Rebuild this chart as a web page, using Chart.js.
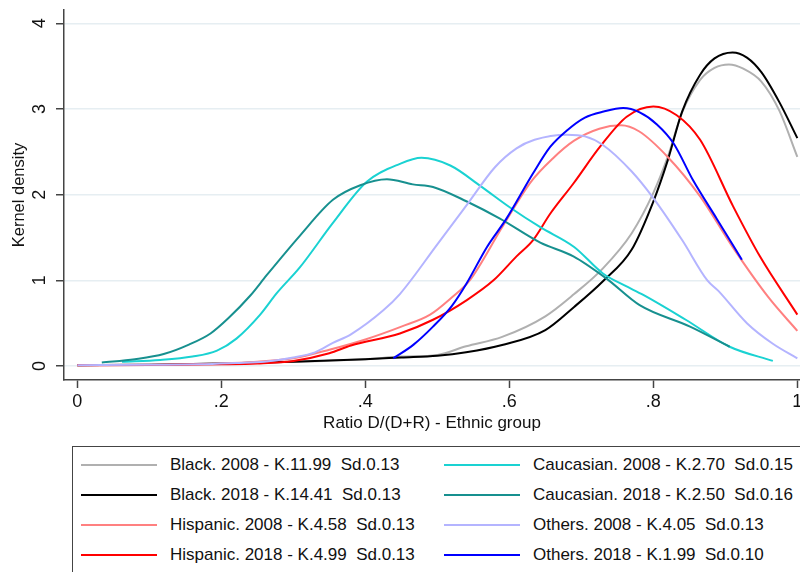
<!DOCTYPE html>
<html>
<head>
<meta charset="utf-8">
<script src="https://cdn.jsdelivr.net/npm/chart.js@4.4.0/dist/chart.umd.min.js"></script>
<style>
  html, body { margin:0; padding:0; background:#fff; width:800px; height:572px; overflow:hidden; }
  #wrap { position:relative; width:800px; height:572px; overflow:hidden; }
  #chart { position:absolute; left:0; top:0; }
  #legend { position:absolute; left:72px; top:446px; width:760px; height:134px; box-sizing:border-box;
            border:1px solid #444; font:17px "Liberation Sans", Arial, sans-serif; color:#111; }
  .item { position:absolute; height:20px; line-height:20px; }
  .item .ln { position:absolute; top:9px; left:0; width:76px; height:2px; }
  .item .tx { position:absolute; left:89px; top:0; white-space:pre; }
</style>
</head>
<body>
<div id="wrap">
  <canvas id="chart" width="800" height="446"></canvas>
  <div id="legend"></div>
</div>
<script>
(function(){
  'use strict';

  // axis ticks
  const xTicks = [0, 0.2, 0.4, 0.6, 0.8, 1];
  const xTickLabels = ['0', '.2', '.4', '.6', '.8', '1'];
  const yTicks = [0, 1, 2, 3, 4];

  // legend text, in the order the series are listed
  const seriesLabels = [
    'Black. 2008 - K.11.99  Sd.0.13',
    'Black. 2018 - K.14.41  Sd.0.13',
    'Hispanic. 2008 - K.4.58  Sd.0.13',
    'Hispanic. 2018 - K.4.99  Sd.0.13',
    'Caucasian. 2008 - K.2.70  Sd.0.15',
    'Caucasian. 2018 - K.2.50  Sd.0.16',
    'Others. 2008 - K.4.05  Sd.0.13',
    'Others. 2018 - K.1.99  Sd.0.10'
  ];
  const seriesColors = ['#b0b0b0', '#000000', '#ff8080', '#ff0000', '#1ad2d2', '#17908f', '#b4b4ff', '#0000ff'];

  // kernel density curves, [ratio, density]
  const black2008 = [[0,0.01],[0.1,0.015],[0.2,0.03],[0.3,0.05],[0.4,0.08],[0.45,0.11],[0.5,0.13],[0.54,0.23],
    [0.59,0.34],[0.65,0.58],[0.69,0.84],[0.73,1.14],[0.77,1.55],[0.8,2.02],[0.82,2.44],[0.84,2.96],[0.865,3.34],
    [0.885,3.48],[0.905,3.52],[0.925,3.47],[0.95,3.32],[0.975,2.98],[1.0,2.44]];
  const black2018 = [[0,0.01],[0.1,0.015],[0.2,0.03],[0.3,0.05],[0.4,0.08],[0.45,0.1],[0.5,0.12],[0.54,0.16],
    [0.59,0.245],[0.65,0.42],[0.69,0.69],[0.73,0.99],[0.77,1.36],[0.8,1.92],[0.82,2.4],[0.84,2.97],[0.865,3.4],
    [0.885,3.59],[0.91,3.66],[0.93,3.6],[0.95,3.43],[0.975,3.08],[1.0,2.66]];
  const hispanic2008 = [[0,0.01],[0.1,0.015],[0.2,0.03],[0.25,0.05],[0.3,0.09],[0.35,0.19],[0.4,0.31],[0.45,0.46],
    [0.49,0.6],[0.52,0.8],[0.545,1.0],[0.59,1.62],[0.63,2.15],[0.66,2.42],[0.69,2.63],[0.725,2.77],[0.755,2.81],
    [0.78,2.74],[0.82,2.44],[0.865,1.98],[0.91,1.39],[0.96,0.8],[1.0,0.41]];
  const hispanic2018 = [[0,0.01],[0.1,0.012],[0.2,0.02],[0.25,0.03],[0.3,0.06],[0.35,0.15],[0.38,0.24],[0.448,0.38],
    [0.494,0.54],[0.541,0.77],[0.578,1.0],[0.61,1.28],[0.633,1.47],[0.657,1.78],[0.689,2.13],[0.726,2.56],
    [0.763,2.91],[0.8,3.03],[0.832,2.93],[0.865,2.64],[0.911,1.86],[0.948,1.28],[1.0,0.6]];
  const caucasian2008 = [[0.062,0.05],[0.115,0.07],[0.16,0.11],[0.194,0.18],[0.221,0.32],[0.254,0.6],[0.277,0.85],
    [0.309,1.15],[0.355,1.67],[0.402,2.15],[0.448,2.36],[0.478,2.43],[0.518,2.34],[0.56,2.1],[0.601,1.85],
    [0.643,1.62],[0.69,1.39],[0.73,1.08],[0.76,0.94],[0.786,0.83],[0.845,0.54],[0.906,0.225],[0.966,0.06]];
  const caucasian2018 = [[0.034,0.04],[0.08,0.08],[0.12,0.14],[0.155,0.25],[0.185,0.38],[0.21,0.56],[0.24,0.82],
    [0.263,1.06],[0.309,1.52],[0.355,1.94],[0.393,2.11],[0.43,2.18],[0.466,2.12],[0.494,2.09],[0.541,1.92],
    [0.587,1.72],[0.643,1.44],[0.689,1.28],[0.735,1.02],[0.781,0.71],[0.851,0.46],[0.906,0.225]];
  const others2008 = [[0,0.01],[0.1,0.015],[0.17,0.02],[0.22,0.035],[0.26,0.05],[0.3,0.1],[0.33,0.16],[0.355,0.27],
    [0.38,0.37],[0.425,0.65],[0.448,0.84],[0.5,1.42],[0.541,1.88],[0.58,2.32],[0.61,2.54],[0.635,2.64],[0.68,2.7],
    [0.705,2.68],[0.73,2.58],[0.77,2.27],[0.8,1.96],[0.84,1.47],[0.875,1.0],[0.89,0.88],[0.93,0.5],[0.966,0.26],[1.0,0.09]];
  const others2018 = [[0.439,0.09],[0.467,0.25],[0.494,0.46],[0.52,0.7],[0.541,0.97],[0.569,1.39],[0.596,1.72],
    [0.633,2.25],[0.657,2.56],[0.68,2.75],[0.705,2.9],[0.731,2.97],[0.758,3.01],[0.781,2.96],[0.805,2.82],
    [0.828,2.6],[0.855,2.17],[0.888,1.72],[0.923,1.24]];

  const seriesData = [black2008, black2018, hispanic2008, hispanic2018, caucasian2008, caucasian2018, others2008, others2018];

  const font = '"Liberation Sans", Arial, Helvetica, sans-serif';
  const axisColor = '#444';

  const datasets = seriesData.map(function(pts, i){
    return {
      label: seriesLabels[i],
      data: pts.map(function(p){ return { x: p[0], y: p[1] }; }),
      borderColor: seriesColors[i],
      backgroundColor: seriesColors[i],
      borderWidth: 2,
      pointRadius: 0,
      cubicInterpolationMode: 'monotone',
      fill: false,
      order: seriesData.length - i // later series on top, like stata
    };
  });

  const chart = new Chart(document.getElementById('chart').getContext('2d'), {
    type: 'line',
    data: { datasets: datasets },
    options: {
      responsive: false,
      animation: false,
      devicePixelRatio: 1,
      layout: { padding: { top: 10, right: 0, bottom: 0, left: 0 } },
      plugins: { legend: { display: false }, tooltip: { enabled: false } },
      scales: {
        x: {
          type: 'linear',
          min: -0.0185,
          max: 1.0037,
          afterBuildTicks: function(scale){ scale.ticks = xTicks.map(function(v){ return { value: v }; }); },
          afterFit: function(scale){ scale.height = 66; scale.paddingLeft = 0; scale.paddingRight = 0; },
          ticks: {
            autoSkip: false, maxRotation: 0, minRotation: 0, padding: 3, color: '#111',
            font: { family: font, size: 18 },
            callback: function(v){ const k = xTicks.indexOf(v); return k >= 0 ? xTickLabels[k] : ''; }
          },
          grid: { drawOnChartArea: false, drawTicks: true, tickLength: 8, tickColor: axisColor, tickWidth: 1.5 },
          border: { display: true, color: axisColor, width: 1.5 },
          title: { display: true, text: 'Ratio D/(D+R) - Ethnic group', color: '#111',
                   font: { family: font, size: 17 }, padding: { top: 0, bottom: 12 } }
        },
        y: {
          type: 'linear',
          min: -0.163,
          max: 4.155,
          afterBuildTicks: function(scale){ scale.ticks = yTicks.map(function(v){ return { value: v }; }); },
          afterFit: function(scale){ scale.width = 64; scale.paddingTop = 0; scale.paddingBottom = 0; },
          ticks: {
            autoSkip: false, minRotation: 90, maxRotation: 90, crossAlign: 'center', padding: 11, color: '#111',
            font: { family: font, size: 18 },
            callback: function(v){ return String(v); }
          },
          grid: { color: '#e6eef2', lineWidth: 1.5, drawTicks: true, tickLength: 8, tickColor: axisColor, tickWidth: 1.5 },
          border: { display: true, color: axisColor, width: 1.5 },
          title: { display: true, text: 'Kernel density', color: '#111',
                   font: { family: font, size: 16.5 }, padding: { top: 10, bottom: 0 } }
        }
      }
    }
  });

  // html legend, two columns of four, built from the datasets
  function buildLegend(){
    const box = document.getElementById('legend');
    box.innerHTML = '';
    chart.data.datasets.forEach(function(ds, i){
      const col = Math.floor(i / 4), row = i % 4;
      const item = document.createElement('div');
      item.className = 'item';
      item.style.left = (8 + col * 363) + 'px';
      item.style.top = (8 + row * 30) + 'px';
      item.innerHTML = '<span class="ln" style="background:' + ds.borderColor + '"></span><span class="tx"></span>';
      item.querySelector('.tx').textContent = ds.label;
      box.appendChild(item);
    });
  }
  buildLegend();
})();
</script>
</body>
</html>
